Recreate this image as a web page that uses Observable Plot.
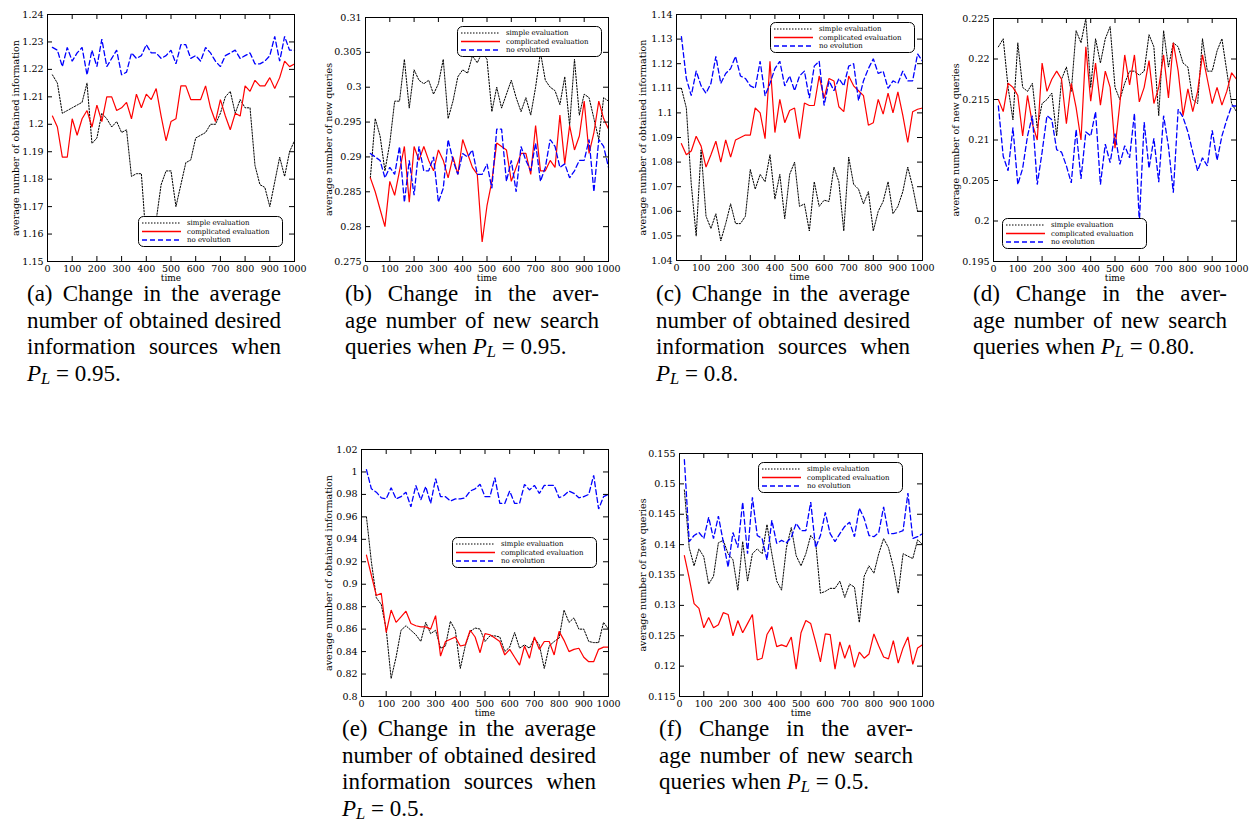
<!DOCTYPE html>
<html>
<head>
<meta charset="utf-8">
<script src="https://cdn.jsdelivr.net/npm/d3@7"></script>
<script src="https://cdn.jsdelivr.net/npm/@observablehq/plot@0.6"></script>
<style>
  html, body { margin: 0; padding: 0; background: #fff; }
  body { position: relative; width: 1250px; height: 821px; overflow: hidden; }
  .panel { position: absolute; }
  .legend { position: absolute; }
  .cap { position: absolute; width: 254px; font-family: "Liberation Serif", "DejaVu Serif", serif; font-size: 23px; line-height: 26.5px; color: #000; }
  .cap div { text-align: justify; text-align-last: justify; }
  .cap div.last { text-align-last: left; }
  .cap i { font-style: italic; }
  .cap sub { font-size: 0.72em; line-height: 0; vertical-align: -0.2em; }
</style>
</head>
<body>
<script>
// ---------- data ----------
const time = [20,40,60,80,100,120,140,160,180,200,220,240,260,280,300,320,340,360,380,400,
  420,440,460,480,500,520,540,560,580,600,620,640,660,680,700,720,740,760,780,800,
  820,840,860,880,900,920,940,960,980,1000];
const xTicks = [0,100,200,300,400,500,600,700,800,900,1000];
const seriesNames = ["simple evaluation", "complicated evaluation", "no evolution"];
const labelInfo = "average number of obtained information";
const labelQueries = "average number of new queries";

// (a) P_L = 0.95, obtained information
const yTicksA = [1.15,1.16,1.17,1.18,1.19,1.2,1.21,1.22,1.23,1.24];
const aSimple = [1.218,1.215,1.204,1.205,1.206,1.207,1.208,1.215,1.193,1.195,
  1.204,1.202,1.199,1.201,1.197,1.198,1.181,1.182,1.182,1.157,
  1.156,1.165,1.178,1.183,1.183,1.170,1.178,1.186,1.187,1.195,
  1.196,1.197,1.200,1.200,1.204,1.210,1.212,1.204,1.209,1.206,
  1.206,1.185,1.178,1.177,1.170,1.179,1.188,1.181,1.190,1.194];
const aComp = [1.203,1.199,1.188,1.188,1.202,1.196,1.202,1.205,1.199,1.207,
  1.201,1.210,1.210,1.205,1.206,1.208,1.202,1.211,1.206,1.211,
  1.209,1.213,1.203,1.194,1.201,1.202,1.214,1.214,1.209,1.209,
  1.209,1.214,1.206,1.201,1.209,1.203,1.198,1.204,1.203,1.214,
  1.212,1.216,1.214,1.214,1.217,1.213,1.217,1.223,1.221,1.222];
const aNo = [1.228,1.227,1.221,1.228,1.223,1.226,1.228,1.218,1.227,1.221,
  1.231,1.221,1.224,1.227,1.218,1.219,1.226,1.224,1.225,1.229,
  1.226,1.226,1.224,1.225,1.227,1.222,1.229,1.229,1.224,1.225,
  1.223,1.228,1.226,1.223,1.221,1.225,1.226,1.227,1.224,1.225,
  1.226,1.222,1.222,1.223,1.225,1.232,1.223,1.232,1.227,1.227];

// (b) P_L = 0.95, new queries
const yTicksB = [0.275,0.28,0.285,0.29,0.295,0.3,0.305,0.31];
const bSimple = [0.287,0.2955,0.293,0.288,0.292,0.298,0.298,0.304,0.297,0.3025,
  0.301,0.3005,0.301,0.299,0.3005,0.304,0.2955,0.298,0.3015,0.3025,
  0.302,0.3045,0.3035,0.305,0.304,0.2965,0.300,0.297,0.299,0.301,
  0.2985,0.2965,0.2985,0.296,0.300,0.305,0.301,0.300,0.2995,0.2975,
  0.3015,0.2945,0.304,0.296,0.299,0.2985,0.2955,0.2925,0.2985,0.298];
const bComp = [0.287,0.285,0.2825,0.280,0.2865,0.2845,0.288,0.2915,0.2835,0.2915,
  0.2895,0.2915,0.2895,0.288,0.291,0.2895,0.287,0.290,0.2875,0.2925,
  0.2905,0.2885,0.2875,0.2778,0.283,0.2865,0.292,0.2915,0.291,0.2865,
  0.2885,0.2905,0.2905,0.2875,0.2945,0.288,0.288,0.2895,0.2885,0.296,
  0.289,0.2945,0.291,0.293,0.298,0.2905,0.2935,0.298,0.2955,0.294];
const bNo = [0.2905,0.290,0.2895,0.287,0.2885,0.2875,0.2915,0.2835,0.2895,0.2845,
  0.2915,0.288,0.288,0.290,0.2835,0.2855,0.2925,0.2895,0.2875,0.2905,
  0.290,0.291,0.2875,0.2875,0.289,0.2855,0.294,0.294,0.2865,0.2895,
  0.285,0.2915,0.2895,0.288,0.292,0.2865,0.2885,0.2925,0.2915,0.2885,
  0.289,0.287,0.288,0.2895,0.2895,0.2925,0.285,0.2925,0.2915,0.2885];

// (c) P_L = 0.8, obtained information
const yTicksC = [1.04,1.05,1.06,1.07,1.08,1.09,1.1,1.11,1.12,1.13,1.14];
const cSimple = [1.110,1.102,1.071,1.050,1.085,1.058,1.053,1.059,1.048,1.055,
  1.063,1.055,1.055,1.058,1.077,1.069,1.075,1.072,1.083,1.065,
  1.075,1.057,1.075,1.080,1.062,1.063,1.052,1.072,1.062,1.0645,
  1.064,1.078,1.072,1.052,1.082,1.071,1.069,1.063,1.068,1.052,
  1.060,1.064,1.072,1.059,1.062,1.068,1.078,1.070,1.060,1.060];
const cComp = [1.0875,1.083,1.0845,1.0905,1.0865,1.078,1.083,1.0885,1.080,1.089,
  1.082,1.089,1.090,1.091,1.091,1.102,1.100,1.0895,1.121,1.092,
  1.1055,1.096,1.101,1.102,1.0895,1.104,1.103,1.103,1.115,1.106,
  1.114,1.113,1.1025,1.1005,1.115,1.111,1.109,1.107,1.095,1.096,
  1.1055,1.0995,1.108,1.100,1.1085,1.099,1.088,1.1005,1.1015,1.102];
const cNo = [1.131,1.114,1.107,1.117,1.111,1.108,1.112,1.123,1.112,1.116,
  1.118,1.123,1.115,1.114,1.111,1.110,1.121,1.107,1.112,1.118,
  1.121,1.111,1.115,1.109,1.115,1.117,1.106,1.119,1.121,1.103,
  1.113,1.109,1.114,1.111,1.119,1.120,1.105,1.113,1.118,1.122,
  1.116,1.117,1.110,1.113,1.112,1.117,1.113,1.113,1.124,1.121];

// (d) P_L = 0.80, new queries
const yTicksD = [0.195,0.2,0.205,0.21,0.215,0.22,0.225];
const dSimple = [0.2215,0.2225,0.2165,0.2125,0.222,0.2165,0.216,0.217,0.2115,0.2145,
  0.215,0.2158,0.2105,0.2175,0.219,0.216,0.2235,0.222,0.225,0.2165,
  0.2225,0.2195,0.2225,0.224,0.2165,0.215,0.217,0.2185,0.2185,0.218,
  0.2185,0.223,0.2215,0.213,0.2235,0.219,0.222,0.2215,0.2195,0.219,
  0.215,0.2145,0.2225,0.2185,0.2185,0.221,0.2225,0.2185,0.2145,0.2135];
const dComp = [0.215,0.2135,0.217,0.2165,0.2155,0.2105,0.2155,0.212,0.210,0.2195,
  0.216,0.2175,0.2185,0.2175,0.212,0.217,0.214,0.210,0.2215,0.2148,
  0.2195,0.2143,0.2185,0.2165,0.209,0.2145,0.2205,0.2168,0.2205,0.2147,
  0.2165,0.2198,0.2145,0.2165,0.2205,0.2152,0.222,0.2185,0.213,0.2163,
  0.2135,0.216,0.2205,0.2175,0.2145,0.2165,0.2143,0.216,0.2183,0.2175];
const dNo = [0.2142,0.208,0.2062,0.2115,0.2045,0.2065,0.2105,0.213,0.2045,0.2085,
  0.213,0.2125,0.2088,0.2085,0.2068,0.2047,0.2113,0.2052,0.211,0.2105,
  0.2135,0.2045,0.2095,0.2072,0.2108,0.207,0.2093,0.2078,0.2133,0.1998,
  0.2122,0.2065,0.2102,0.2048,0.213,0.2092,0.2035,0.2138,0.2128,0.211,
  0.2085,0.2062,0.2078,0.2068,0.2112,0.2075,0.2105,0.2125,0.2142,0.2142];

// (e) P_L = 0.5, obtained information
const yTicksE = [0.8,0.82,0.84,0.86,0.88,0.9,0.92,0.94,0.96,0.98,1,1.02];
const eSimple = [0.96,0.92,0.888,0.882,0.86,0.816,0.835,0.859,0.863,0.859,
  0.855,0.849,0.866,0.856,0.859,0.843,0.845,0.867,0.859,0.825,
  0.845,0.858,0.861,0.86,0.849,0.854,0.854,0.853,0.84,0.844,
  0.857,0.843,0.846,0.843,0.852,0.846,0.825,0.845,0.849,0.852,
  0.877,0.866,0.87,0.86,0.86,0.849,0.848,0.848,0.866,0.86];
const eComp = [0.926,0.908,0.89,0.892,0.857,0.877,0.866,0.871,0.876,0.865,
  0.863,0.862,0.862,0.86,0.872,0.836,0.849,0.851,0.853,0.845,
  0.846,0.859,0.853,0.839,0.856,0.855,0.852,0.849,0.837,0.842,
  0.835,0.828,0.845,0.834,0.853,0.842,0.849,0.849,0.837,0.858,
  0.85,0.84,0.842,0.843,0.835,0.831,0.831,0.842,0.844,0.844];
const eNo = [1.002,0.985,0.982,0.977,0.976,0.986,0.976,0.978,0.982,0.969,
  0.988,0.975,0.987,0.972,0.994,0.978,0.978,0.974,0.976,0.976,
  0.977,0.983,0.985,0.989,0.978,0.978,0.995,0.972,0.972,0.983,
  0.972,0.972,0.989,0.984,0.988,0.981,0.988,0.988,0.988,0.977,
  0.979,0.983,0.981,0.977,0.978,0.98,0.997,0.967,0.978,0.98];

// (f) P_L = 0.5, new queries
const yTicksF = [0.115,0.12,0.125,0.13,0.135,0.14,0.145,0.15,0.155];
const fSimple = [0.149,0.1395,0.1365,0.1393,0.138,0.1335,0.1348,0.1403,0.1407,0.1385,
  0.1375,0.1325,0.1405,0.134,0.1385,0.1393,0.1385,0.1433,0.1385,0.134,
  0.1325,0.1395,0.1428,0.1382,0.1365,0.1385,0.1415,0.1405,0.132,0.1323,
  0.1328,0.1328,0.134,0.1313,0.1335,0.133,0.1272,0.1348,0.1365,0.1353,
  0.1385,0.141,0.1395,0.1363,0.132,0.1385,0.1381,0.1377,0.1408,0.14];
const fComp = [0.1382,0.1345,0.1303,0.1295,0.1263,0.128,0.1263,0.1268,0.1288,0.1285,
  0.125,0.1275,0.1255,0.127,0.1285,0.121,0.1213,0.1252,0.1265,0.1232,
  0.1235,0.1232,0.1248,0.1195,0.1255,0.1275,0.127,0.124,0.1207,0.1253,
  0.1252,0.1195,0.124,0.1213,0.1235,0.1198,0.1223,0.1213,0.122,0.1253,
  0.1233,0.1215,0.1212,0.1242,0.1205,0.123,0.1248,0.1203,0.123,0.1235];
const fNo = [0.154,0.1405,0.1415,0.142,0.141,0.1445,0.141,0.1447,0.1405,0.1363,
  0.142,0.1395,0.147,0.1385,0.1478,0.1415,0.141,0.1375,0.144,0.1402,
  0.1407,0.1403,0.1412,0.1435,0.1423,0.1423,0.147,0.1395,0.1415,0.1453,
  0.1418,0.1405,0.1418,0.143,0.1437,0.1413,0.146,0.1443,0.1415,0.1413,
  0.142,0.1462,0.1418,0.1418,0.142,0.1423,0.1485,0.141,0.1413,0.1418];

const captionA = ["(a) Change in the average", "number of obtained desired", "information sources when", "<i>P</i><sub><i>L</i></sub> = 0.95."];
const captionB = ["(b) Change in the aver-", "age number of new search", "queries when <i>P</i><sub><i>L</i></sub> = 0.95."];
const captionC = ["(c) Change in the average", "number of obtained desired", "information sources when", "<i>P</i><sub><i>L</i></sub> = 0.8."];
const captionD = ["(d) Change in the aver-", "age number of new search", "queries when <i>P</i><sub><i>L</i></sub> = 0.80."];
const captionE = ["(e) Change in the average", "number of obtained desired", "information sources when", "<i>P</i><sub><i>L</i></sub> = 0.5."];
const captionF = ["(f) Change in the aver-", "age number of new search", "queries when <i>P</i><sub><i>L</i></sub> = 0.5."];

// ---------- layout ----------
const styles = [
  {stroke: "#000000", strokeWidth: 1, dash: "1.5,1.5"},
  {stroke: "#ff0000", strokeWidth: 1.2, dash: "none"},
  {stroke: "#0000ff", strokeWidth: 1.3, dash: "5,3"}
];

const panels = [
  {L: 47, R: 294, T: 14, B: 261, yTicks: yTicksA, ylabel: labelInfo, yl: 32, data: [aSimple, aComp, aNo], leg: [138, 216], cap: captionA, capX: 27, capY: 281},
  {L: 365, R: 608, T: 17, B: 261, yTicks: yTicksB, ylabel: labelQueries, yl: 37, data: [bSimple, bComp, bNo], leg: [457, 26], cap: captionB, capX: 345, capY: 281},
  {L: 676, R: 922, T: 14, B: 260, yTicks: yTicksC, ylabel: labelInfo, yl: 34, data: [cSimple, cComp, cNo], leg: [770, 22], cap: captionC, capX: 656, capY: 281},
  {L: 993, R: 1236, T: 18, B: 261, yTicks: yTicksD, ylabel: labelQueries, yl: 38, data: [dSimple, dComp, dNo], leg: [1002, 218], cap: captionD, capX: 973, capY: 281},
  {L: 361, R: 608, T: 449, B: 696, yTicks: yTicksE, ylabel: labelInfo, yl: 33, data: [eSimple, eComp, eNo], leg: [452, 537], cap: captionE, capX: 342, capY: 716},
  {L: 679, R: 922, T: 453, B: 696, yTicks: yTicksF, ylabel: labelQueries, yl: 37, data: [fSimple, fComp, fNo], leg: [758, 462], cap: captionF, capX: 659, capY: 716}
];

const mL = 50, mR = 8, mT = 8, mB = 32;
const serif = '"DejaVu Serif", "Liberation Serif", serif';

for (const p of panels) {
  const fw = p.R - p.L, fh = p.B - p.T;
  const rows = vals => time.map((t, i) => ({t, v: vals[i]}));
  const lineMarks = p.data.map((vals, i) => Plot.line(rows(vals), {
    x: "t", y: "v", stroke: styles[i].stroke, strokeWidth: styles[i].strokeWidth,
    strokeDasharray: styles[i].dash, strokeLinejoin: "miter"
  }));
  const chart = Plot.plot({
    width: fw + mL + mR,
    height: fh + mT + mB,
    marginLeft: mL, marginRight: mR, marginTop: mT, marginBottom: mB,
    style: {fontFamily: serif, fontSize: "9.5px", background: "transparent", color: "#000", overflow: "visible"},
    x: {domain: [0, 1000]},
    y: {domain: [p.yTicks[0], p.yTicks[p.yTicks.length - 1]]},
    marks: [
      ...lineMarks,
      Plot.tickX(xTicks, {x: d => d, insetTop: fh - 5, stroke: "#000"}),
      Plot.tickX(xTicks, {x: d => d, insetBottom: fh - 5, stroke: "#000"}),
      Plot.tickY(p.yTicks, {y: d => d, insetRight: fw - 5, stroke: "#000"}),
      Plot.tickY(p.yTicks, {y: d => d, insetLeft: fw - 5, stroke: "#000"}),
      Plot.frame({stroke: "#000"}),
      Plot.axisX(xTicks, {tickSize: 0, tickPadding: 4, tickFormat: d => String(d), label: null, fontFamily: serif}),
      Plot.axisY(p.yTicks, {tickSize: 0, tickPadding: 4, tickFormat: d3.format("~g"), label: null, fontFamily: serif}),
      Plot.text(["time"], {frameAnchor: "bottom", dy: 19, text: d => d, fontFamily: serif, fontSize: 9}),
      Plot.text([p.ylabel], {frameAnchor: "left", rotate: -90, dx: -p.yl, textAnchor: "middle", lineAnchor: "middle", text: d => d, fontFamily: serif, fontSize: 9.5})
    ]
  });
  chart.classList.add("panel");
  chart.style.left = (p.L - mL) + "px";
  chart.style.top = (p.T - mT) + "px";
  document.body.appendChild(chart);

  // legend box
  const lw = 145, lh = 31;
  const leg = d3.create("svg").attr("class", "legend").attr("width", lw + 2).attr("height", lh + 2)
    .style("left", (p.leg[0] - 1) + "px").style("top", (p.leg[1] - 1) + "px");
  leg.append("rect").attr("x", 1.5).attr("y", 1.5).attr("width", lw - 1).attr("height", lh - 1)
    .attr("rx", 5).attr("fill", "#fff").attr("stroke", "#000").attr("stroke-width", 1);
  const rowY = [8, 16.5, 25];
  seriesNames.forEach((name, i) => {
    leg.append("line").attr("x1", 5).attr("x2", 44).attr("y1", rowY[i]).attr("y2", rowY[i])
      .style("stroke", styles[i].stroke).style("stroke-width", styles[i].strokeWidth + 0.2)
      .style("stroke-dasharray", styles[i].dash);
    leg.append("text").attr("x", 50).attr("y", rowY[i]).attr("dy", "0.32em")
      .style("font-family", serif).style("font-size", "7px").text(name);
  });
  document.body.appendChild(leg.node());

  // caption
  const cap = document.createElement("div");
  cap.className = "cap";
  cap.style.left = p.capX + "px";
  cap.style.top = p.capY + "px";
  cap.innerHTML = p.cap.map((l, i) => `<div class="${i === p.cap.length - 1 ? "last" : ""}">${l}</div>`).join("");
  document.body.appendChild(cap);
}
</script>
</body>
</html>
